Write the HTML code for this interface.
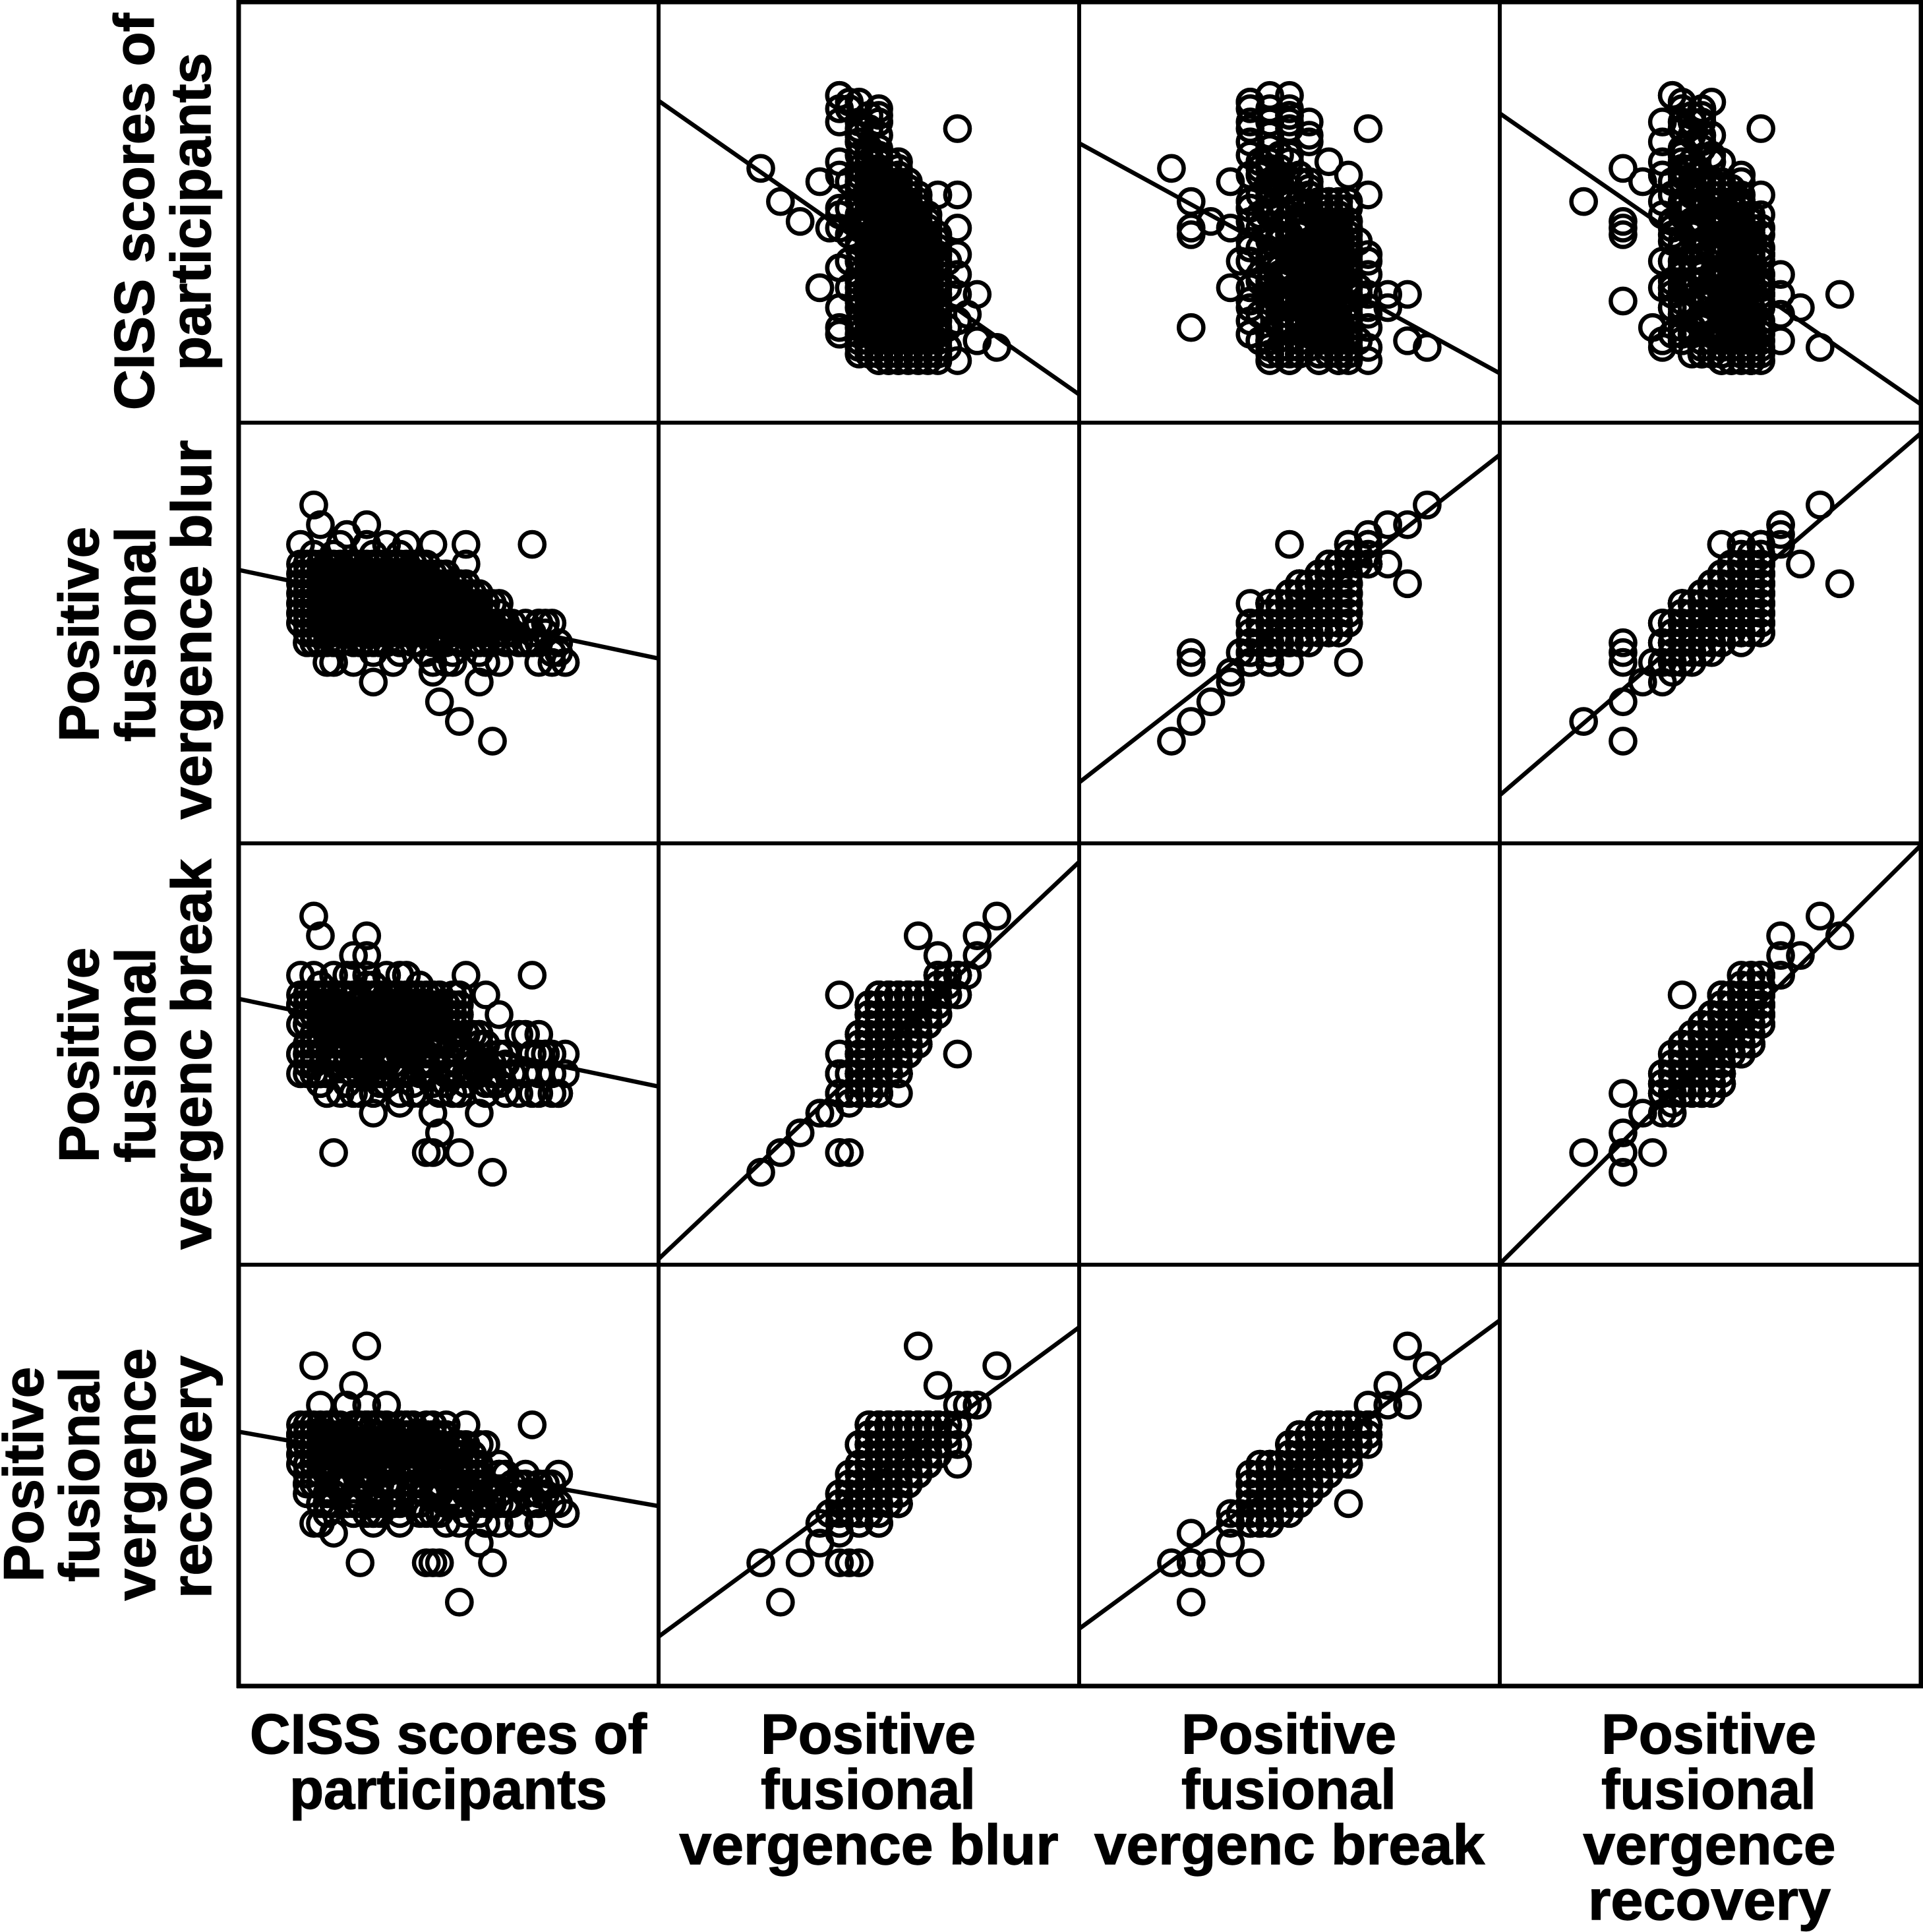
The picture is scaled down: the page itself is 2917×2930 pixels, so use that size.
<!DOCTYPE html>
<html lang="en">
<head>
<meta charset="utf-8">
<title>Scatterplot matrix of CISS scores and positive fusional vergence</title>
<style>
html,body{margin:0;padding:0;background:#fff;}
svg{display:block;}
text{font-family:"Liberation Sans",Arial,sans-serif;font-weight:bold;font-size:85px;fill:#000;stroke:#000;stroke-width:1.4px;text-anchor:middle;}
</style>
</head>
<body>
<svg id="chart" xmlns="http://www.w3.org/2000/svg" width="2917" height="2930" viewBox="0 0 2917 2930">
<rect width="2917" height="2930" fill="#fff"/>
<g id="marks"></g>
<g id="grid"></g>
<g>
<text x="680" y="2659" textLength="602" lengthAdjust="spacingAndGlyphs">CISS scores of</text>
<text x="680" y="2743">participants</text>
<text x="1317" y="2659">Positive</text>
<text x="1317" y="2743">fusional</text>
<text x="1318" y="2827" textLength="575" lengthAdjust="spacingAndGlyphs">vergence blur</text>
<text x="1955" y="2659">Positive</text>
<text x="1955" y="2743">fusional</text>
<text x="1956" y="2827" textLength="592" lengthAdjust="spacingAndGlyphs">vergenc break</text>
<text x="2592" y="2659">Positive</text>
<text x="2592" y="2743">fusional</text>
<text x="2593" y="2827" textLength="383" lengthAdjust="spacingAndGlyphs">vergence</text>
<text x="2593" y="2911" textLength="368" lengthAdjust="spacingAndGlyphs">recovery</text>
</g>
<g>
<text transform="translate(233,321) rotate(-90)" textLength="602" lengthAdjust="spacingAndGlyphs">CISS scores of</text>
<text transform="translate(319,321) rotate(-90)">participants</text>
<text transform="translate(149,962) rotate(-90)">Positive</text>
<text transform="translate(235,962) rotate(-90)">fusional</text>
<text transform="translate(320,955) rotate(-90)" textLength="575" lengthAdjust="spacingAndGlyphs">vergence blur</text>
<text transform="translate(149,1600) rotate(-90)">Positive</text>
<text transform="translate(235,1600) rotate(-90)">fusional</text>
<text transform="translate(320,1599) rotate(-90)" textLength="592" lengthAdjust="spacingAndGlyphs">vergenc break</text>
<text transform="translate(65,2236) rotate(-90)">Positive</text>
<text transform="translate(150,2236) rotate(-90)">fusional</text>
<text transform="translate(235,2236) rotate(-90)" textLength="383" lengthAdjust="spacingAndGlyphs">vergence</text>
<text transform="translate(320,2240) rotate(-90)" textLength="368" lengthAdjust="spacingAndGlyphs">recovery</text>
</g>
</svg>
<script>
// Participant values. Same index = same participant.
const cissScores = [
2,10,3,7,8,10,35,25,24,29,21,27,11,5,20,19,9,40,39,38,38,37,36,36,36,36,35,35,34,34,33,30,27,14,8,11,10,3,1,0,6,10,13,16,20,25,28,15,12,4,40,38,39,36,30,28,37,23,20,22,14,18,
21,24,3,4,9,15,23,
2,9,14,19,6,12,0,17,4,11,16,1,7,13,3,10,18,5,15,8,
5,11,2,15,
21,3,12,7,16,1,18,5,22,10,14,8,19,0,13,6,20,2,11,17,9,4,15,
24,6,17,1,11,3,25,14,9,20,19,7,22,12,0,16,10,21,4,23,15,8,2,13,18,5,22,24,7,18,3,11,
26,9,0,18,13,5,21,27,2,15,8,23,11,4,25,17,6,1,19,12,24,7,14,20,24,3,16,10,22,5,13,23,1,19,9,16,6,21,12,2,
29,8,18,3,24,13,27,1,20,6,30,15,5,22,10,26,0,17,28,7,2,12,23,19,9,25,16,4,27,11,21,1,14,24,6,18,10,20,3,23,13,7,17,22,2,9,15,5,19,12,24,0,8,
12,25,3,30,16,7,19,28,1,10,22,5,14,26,8,0,18,27,2,17,11,24,6,21,13,4,20,9,25,15,23,7,1,18,12,3,16,22,8,2,19,11,5,24,14,0,20,10,17,4,21,6,
24,11,31,4,17,28,7,20,13,2,15,32,23,9,27,0,18,5,29,12,22,26,8,30,1,16,25,10,19,14,21,27,3,6,24,17,10,20,2,26,13,7,23,16,0,9,19,4,12,24,6,21,1,15,18,11,3,22,8,14,23,5,20,10,
25,12,30,19,4,32,9,27,14,2,22,31,7,17,24,11,28,1,20,15,26,5,18,23,8,13,3,21,10,16,6,19,12,
33,15,6,22,29,3,17,11,26,34,8,20,31,13,24,2,18,28,9,21,27,12,5
];
const blurValues = [
24,16,22,21,18,22,20,20,2,0,4,6,6,8,8,9,10,8,9,9,12,12,12,10,12,12,11,10,10,12,10,8,9,8,8,9,10,10,10,20,20,20,20,20,20,18,14,10,10,8,8,8,10,8,14,8,11,8,7,8,8,14,
10,11,10,10,10,9,9,
18,18,18,18,18,18,18,18,18,18,18,18,18,18,18,18,18,18,18,18,
19,19,19,19,
17,17,17,17,17,17,17,17,17,17,17,17,17,17,17,17,17,17,17,17,17,17,17,
16,16,16,16,16,16,16,16,16,16,16,16,16,16,16,16,16,16,16,16,16,16,16,16,16,16,16,16,16,16,16,16,
15,15,15,15,15,15,15,15,15,15,15,15,15,15,15,15,15,15,15,15,15,15,15,15,15,15,15,15,15,15,15,15,15,15,15,15,15,15,15,15,
14,14,14,14,14,14,14,14,14,14,14,14,14,14,14,14,14,14,14,14,14,14,14,14,14,14,14,14,14,14,14,14,14,14,14,14,14,14,14,14,14,14,14,14,14,14,14,14,14,14,14,14,14,
13,13,13,13,13,13,13,13,13,13,13,13,13,13,13,13,13,13,13,13,13,13,13,13,13,13,13,13,13,13,13,13,13,13,13,13,13,13,13,13,13,13,13,13,13,13,13,13,13,13,13,13,
12,12,12,12,12,12,12,12,12,12,12,12,12,12,12,12,12,12,12,12,12,12,12,12,12,12,12,12,12,12,12,12,12,12,12,12,12,12,12,12,12,12,12,12,12,12,12,12,12,12,12,12,12,12,12,12,12,12,12,12,12,12,12,12,
11,11,11,11,11,11,11,11,11,11,11,11,11,11,11,11,11,11,11,11,11,11,11,11,11,11,11,11,11,11,11,11,11,
10,10,10,10,10,10,10,10,10,10,10,10,10,10,10,10,10,10,10,10,10,10,10
];
const breakValues = [
26,24,24,20,22,22,20,12,2,0,4,6,6,2,2,2,8,10,8,10,12,12,8,10,12,14,12,8,10,14,14,10,10,10,8,10,10,10,10,20,18,20,20,20,18,20,18,8,10,10,12,8,8,10,16,8,12,8,6,10,18,8,
8,8,9,8,8,7,8,
16,16,16,16,17,17,17,17,18,18,18,18,18,18,19,19,19,20,20,20,
18,19,20,18,
15,15,15,15,15,16,16,16,16,16,17,17,17,17,17,18,18,18,18,18,16,17,15,
13,13,13,13,13,14,14,14,14,14,15,15,15,15,15,15,16,16,16,16,16,16,17,17,17,17,17,18,18,18,18,18,
12,12,12,12,12,13,13,13,13,13,13,14,14,14,14,14,14,15,15,15,15,15,15,15,16,16,16,16,16,16,17,17,17,17,17,18,18,18,18,18,
10,10,10,10,10,11,11,11,11,11,12,12,12,12,12,12,12,13,13,13,13,13,13,13,14,14,14,14,14,14,15,15,15,15,15,15,15,16,16,16,16,16,16,17,17,17,17,17,18,18,18,18,18,
10,10,10,10,10,11,11,11,11,11,12,12,12,12,12,12,12,13,13,13,13,13,13,13,14,14,14,14,14,14,15,15,15,15,15,15,16,16,16,16,16,16,17,17,17,17,17,18,18,18,18,18,
8,8,8,8,8,9,9,9,9,10,10,10,10,10,10,10,11,11,11,11,11,11,12,12,12,12,12,12,12,13,13,13,13,13,13,13,14,14,14,14,14,14,15,15,15,15,15,15,16,16,16,16,16,16,17,17,17,17,17,18,18,18,18,18,
9,9,9,10,10,10,10,11,11,11,11,12,12,12,12,13,13,13,13,14,14,14,14,15,15,15,15,16,16,16,17,17,17,
8,8,8,9,9,9,9,10,10,10,11,11,11,12,12,12,12,13,13,13,14,14,14
];
const recoveryValues = [
24,26,20,20,22,20,18,14,0,4,4,6,8,7,4,4,4,9,13,12,12,11,8,12,10,12,10,10,12,11,12,8,11,10,9,10,9,10,11,18,16,18,20,18,16,18,16,8,9,10,9,10,10,11,14,8,12,10,9,10,10,10,
9,10,8,9,10,9,10,
15,16,17,18,15,16,17,18,15,16,17,18,16,18,16,18,17,16,18,17,
16,18,17,18,
14,15,16,17,18,14,15,16,17,18,14,15,16,17,18,14,15,16,17,18,16,17,15,
13,14,15,16,17,13,14,15,16,17,13,14,15,16,17,18,13,14,15,16,17,18,14,15,16,17,18,14,15,16,17,18,
12,13,14,15,16,12,13,14,15,16,17,12,13,14,15,16,17,12,13,14,15,16,17,18,13,14,15,16,17,18,14,15,16,17,18,14,15,16,17,18,
10,11,12,13,14,10,11,12,13,14,10,11,12,13,14,15,16,10,12,13,14,15,16,17,12,13,14,15,16,17,12,13,14,15,16,17,18,13,14,15,16,17,18,14,15,16,17,18,14,15,16,17,18,
10,11,12,13,14,10,11,12,13,14,10,11,12,13,14,15,16,10,12,13,14,15,16,17,12,13,14,15,16,17,12,13,14,15,16,17,13,14,15,16,17,18,14,15,16,17,18,14,15,16,17,18,
8,9,10,11,12,8,10,12,14,8,9,10,11,12,13,14,9,10,11,12,13,14,10,11,12,13,14,15,16,10,11,12,14,15,16,17,12,13,14,15,16,17,12,14,15,16,17,18,13,14,15,16,17,18,14,15,16,17,18,14,15,16,17,18,
9,11,13,9,10,12,14,9,10,12,13,10,12,13,15,10,12,14,16,12,13,15,17,12,14,16,18,13,15,17,14,16,18,
8,10,12,8,10,12,14,9,11,13,9,11,13,10,12,14,16,10,12,14,12,14,16
];
// Axis domain for each variable (ciss, blur, break, recovery)
const domainMin = [-9.35, -10.39, -9.38, -8.51];
const domainMax = [54.1, 32.37, 33.38, 34.25];
// Fit line: y value at the left and right panel edges, per panel, row by row
const fitAtLeft = [39.2, 32.8, 37.3, 17.4, -4.2, -5.5, 17.6, -8.8, -9.3, 17.3, -3.5, -2.7];
const fitAtRight = [-5.1, -1.9, -6.6, 8.4, 29.1, 31.3, 8.7, 31.5, 33.2, 9.75, 27.9, 28.6];
const variableNames = ['ciss', 'blur', 'break', 'recovery'];

const SVGNS = 'http://www.w3.org/2000/svg';
const series = [cissScores, blurValues, breakValues, recoveryValues];
const gridX = [362, 999, 1637, 2275, 2914];
const gridY = [3, 641, 1279, 1918, 2557];

function xScale(col, v) {
  const t = (v - domainMin[col]) / (domainMax[col] - domainMin[col]);
  return gridX[col] + t * (gridX[col + 1] - gridX[col]);
}
function yScale(row, v) {
  const t = (v - domainMin[row]) / (domainMax[row] - domainMin[row]);
  return gridY[row + 1] - t * (gridY[row + 1] - gridY[row]);
}

const marks = document.getElementById('marks');
let panelIndex = 0;
for (let row = 0; row < 4; row++) {
  for (let col = 0; col < 4; col++) {
    if (row === col) continue;
    const panel = document.createElementNS(SVGNS, 'g');
    
    
    const fit = document.createElementNS(SVGNS, 'line');
    
    
    fit.setAttribute('x1', gridX[col]);
    fit.setAttribute('x2', gridX[col + 1]);
    fit.setAttribute('y1', yScale(row, fitAtLeft[panelIndex]));
    fit.setAttribute('y2', yScale(row, fitAtRight[panelIndex]));
    fit.setAttribute('stroke', '#000');
    fit.setAttribute('stroke-width', '6.5');
    panel.appendChild(fit);
    const xs = series[col];
    const ys = series[row];
    const count = Math.min(xs.length, ys.length);
    for (let i = 0; i < count; i++) {
      const dot = document.createElementNS(SVGNS, 'circle');
      
      
      dot.setAttribute('cx', xScale(col, xs[i]));
      dot.setAttribute('cy', yScale(row, ys[i]));
      dot.setAttribute('r', '18.6');
      dot.setAttribute('fill', 'none');
      dot.setAttribute('stroke', '#000');
      dot.setAttribute('stroke-width', '6.5');
      panel.appendChild(dot);
    }
    marks.appendChild(panel);
    panelIndex++;
  }
}

const grid = document.getElementById('grid');
for (let i = 0; i < 5; i++) {
  const v = document.createElementNS(SVGNS, 'line');
  
  
  v.setAttribute('x1', gridX[i]);
  v.setAttribute('x2', gridX[i]);
  v.setAttribute('y1', 0);
  v.setAttribute('y2', 2560);
  v.setAttribute('stroke', '#000');
  v.setAttribute('stroke-width', (i === 0 || i === 4) ? 7 : 6);
  grid.appendChild(v);
  const h = document.createElementNS(SVGNS, 'line');
  
  
  h.setAttribute('x1', 359);
  h.setAttribute('x2', 2917);
  h.setAttribute('y1', gridY[i]);
  h.setAttribute('y2', gridY[i]);
  h.setAttribute('stroke', '#000');
  h.setAttribute('stroke-width', (i === 0 || i === 4) ? 7 : 6);
  grid.appendChild(h);
}
</script>
</body>
</html>
